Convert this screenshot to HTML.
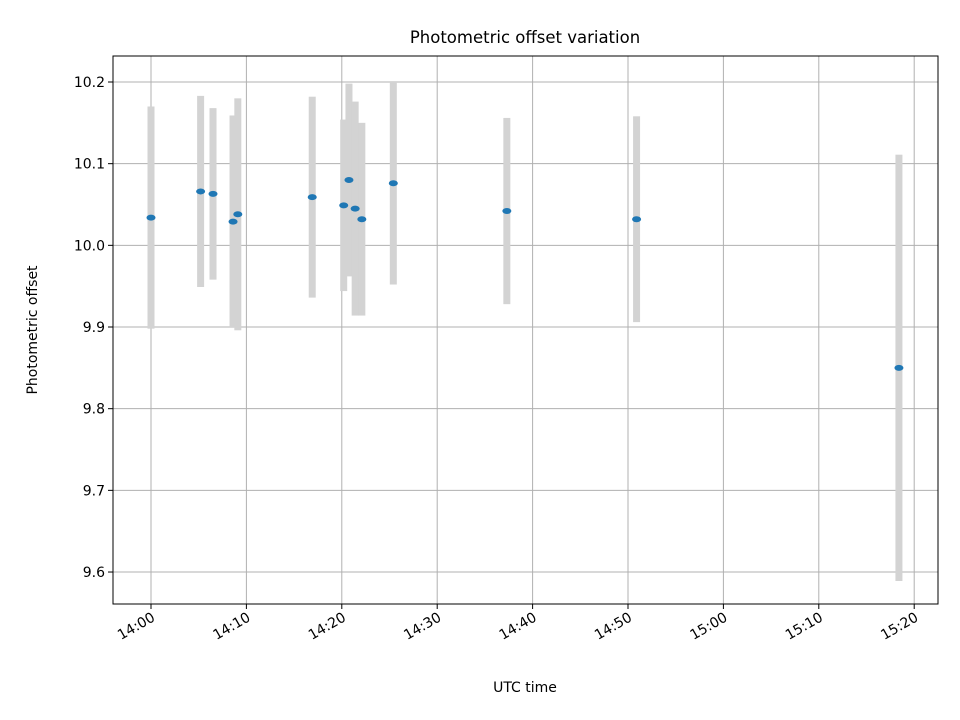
<!DOCTYPE html>
<html><head><meta charset="utf-8"><style>body{margin:0;background:#fff}svg{display:block;font-family:"DejaVu Sans","Liberation Sans",sans-serif}</style></head>
<body>
<svg id="chart" width="960" height="720" xmlns="http://www.w3.org/2000/svg">
<rect width="960" height="720" fill="#fff"/>
<g id="grid"></g>
<g id="bars"></g>
<g id="pts"></g>
<rect x="113" y="56" width="825" height="548" fill="none" stroke="#000" stroke-width="1"/>
<g id="ticks"></g>
<text x="525" y="43" text-anchor="middle" font-size="16.5">Photometric offset variation</text>
<text x="525" y="692" text-anchor="middle" font-size="14">UTC time</text>
<text transform="translate(37,330) rotate(-90)" text-anchor="middle" font-size="14">Photometric offset</text>
</svg>
<script>
const minutes=[0,5.2,6.5,8.6,9.1,16.9,20.2,20.75,21.4,22.1,25.4,37.3,50.9,78.4];
const offsets=[10.034,10.066,10.063,10.029,10.038,10.059,10.049,10.080,10.045,10.032,10.076,10.042,10.032,9.850];
const errors=[0.136,0.117,0.105,0.130,0.142,0.123,0.105,0.118,0.131,0.118,0.124,0.114,0.126,0.261];
const xTickMinutes=[0,10,20,30,40,50,60,70,80];
const xTickLabels=["14:00","14:10","14:20","14:30","14:40","14:50","15:00","15:10","15:20"];
const yTicks=[9.6,9.7,9.8,9.9,10.0,10.1,10.2];
const yTickLabels=["9.6","9.7","9.8","9.9","10.0","10.1","10.2"];
const L=113,R=938,T=56,B=604,NS="http://www.w3.org/2000/svg";
const xs=m=>151+m*9.54;
const ys=v=>82+(10.2-v)*816.7;
function mk(tag,attrs,parent){const e=document.createElementNS(NS,tag);for(const k in attrs)e.setAttribute(k,attrs[k]);document.getElementById(parent).appendChild(e);return e;}
xTickMinutes.forEach((m,i)=>{const x=xs(m);
 let g=mk('line',{x1:x,x2:x,y1:T,y2:B,stroke:'#b0b0b0','stroke-width':1},'grid');
 
 let t=mk('line',{x1:x,x2:x,y1:B,y2:B+5,stroke:'#000'},'ticks');
 
 let tx=mk('text',{x:0,y:0,'font-size':14,'text-anchor':'end',transform:`translate(${x+5},${B+16}) rotate(-30)`},'ticks');
 tx.textContent=xTickLabels[i];
 
});
yTicks.forEach((v,i)=>{const y=ys(v);
 let g=mk('line',{x1:L,x2:R,y1:y,y2:y,stroke:'#b0b0b0','stroke-width':1},'grid');
 
 let t=mk('line',{x1:L-5,x2:L,y1:y,y2:y,stroke:'#000'},'ticks');
 
 let tx=mk('text',{x:L-8,y:y+5,'font-size':14,'text-anchor':'end'},'ticks');
 tx.textContent=yTickLabels[i];
 
});
minutes.forEach((m,i)=>{const x=xs(m),y1=ys(offsets[i]+errors[i]),y2=ys(offsets[i]-errors[i]);
 let b=mk('rect',{x:x-3.5,y:y1,width:7,height:y2-y1,fill:'#d3d3d3'},'bars');
 
});
minutes.forEach((m,i)=>{
 let p=mk('ellipse',{cx:xs(m),cy:ys(offsets[i]),rx:4.5,ry:3,fill:'#1f77b4'},'pts');
 
});
</script>
</body></html>
